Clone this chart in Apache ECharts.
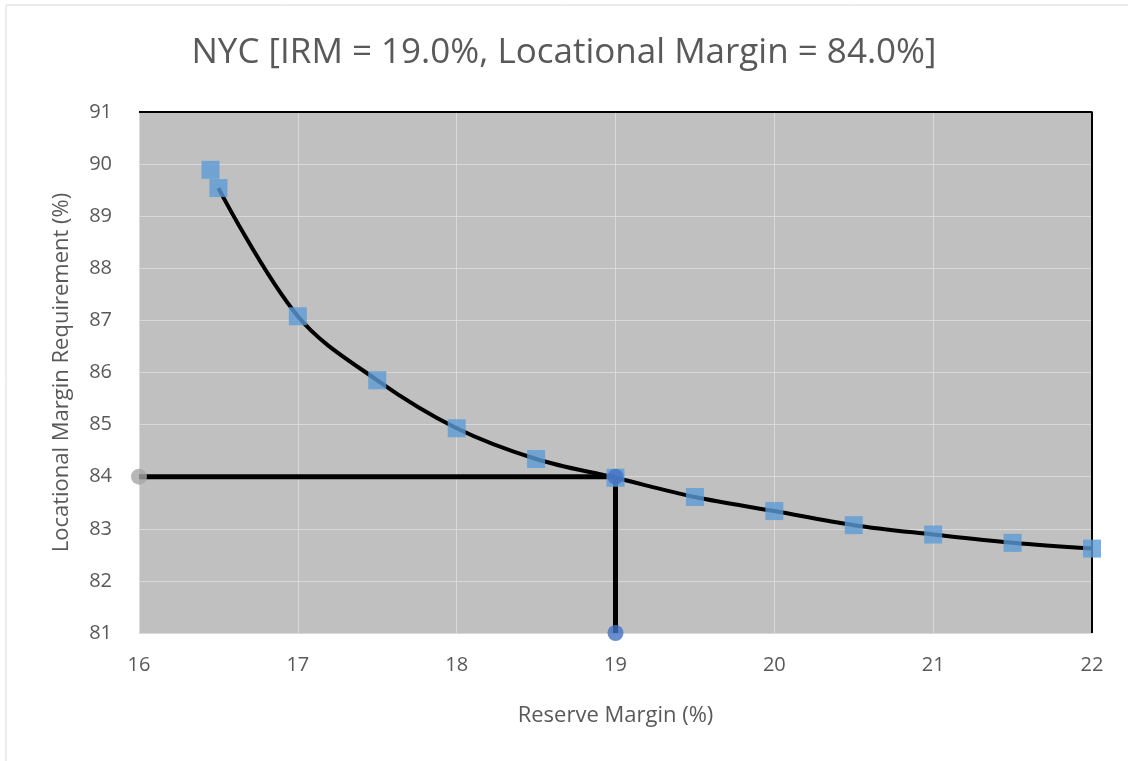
<!DOCTYPE html>
<html>
<head>
<meta charset="utf-8">
<style>
html,body{margin:0;padding:0;background:#fff;}
#main{width:1128px;height:761px;}
</style>
<script src="https://cdn.jsdelivr.net/npm/echarts@6/dist/echarts.min.js"></script>
</head>
<body>
<div id="main"></div>
<script>
// reserve margin (%) vs locational margin requirement (%)
var reserveMargin = [16.45, 16.5, 17, 17.5, 18, 18.5, 19, 19.5, 20, 20.5, 21, 21.5, 22];
var lcrValues = [89.89, 89.54, 87.08, 85.85, 84.93, 84.34, 83.98, 83.61, 83.34, 83.07, 82.89, 82.73, 82.62];
// curve starts at the second point
var curveStart = 1;
var irm = 19.0;
var locMargin = 84.0;
var xMin = 16, xMax = 22;
var yMin = 81, yMax = 91;

var chart = echarts.init(document.getElementById('main'));

var pts = reserveMargin.map(function (x, i) { return [x, lcrValues[i]]; });
var curve = pts.slice(curveStart);

var font = "'Open Sans', sans-serif";

var option = {
    backgroundColor: '#fff',
    animation: false,
    title: {
        text: 'NYC [IRM = 19.0%, Locational Margin = 84.0%]',
        left: 'center',
        top: 31,
        textStyle: { fontFamily: font, fontSize: 35, fontWeight: 'normal', color: '#595959' }
    },
    graphic: [{
        type: 'rect',
        shape: { x: 6, y: 5, width: 1140, height: 770 },
        style: { fill: 'none', stroke: '#d9d9d9', lineWidth: 1 },
        silent: true
    }],
    grid: {
        left: 139, right: 36, top: 112, bottom: 128,
        show: true,
        backgroundColor: '#c0c0c0',
        borderWidth: 0
    },
    xAxis: {
        type: 'value',
        min: xMin, max: xMax, interval: 1,
        name: 'Reserve Margin (%)',
        nameLocation: 'middle',
        nameGap: 72,
        nameTextStyle: { fontFamily: font, fontSize: 22, color: '#595959' },
        axisLine: { show: false },
        axisTick: { show: false },
        axisLabel: { fontFamily: font, fontSize: 20, color: '#595959', margin: 22 },
        splitLine: { show: true, lineStyle: { color: '#d9d9d9', width: 1 } }
    },
    yAxis: {
        type: 'value',
        min: yMin, max: yMax, interval: 1,
        name: 'Locational Margin Requirement (%)',
        nameLocation: 'middle',
        nameGap: 66,
        nameTextStyle: { fontFamily: font, fontSize: 22, color: '#595959' },
        axisLine: { show: false },
        axisTick: { show: false },
        axisLabel: { fontFamily: font, fontSize: 20, color: '#595959', margin: 27 },
        splitLine: { show: true, lineStyle: { color: '#d9d9d9', width: 1 } }
    },
    series: [
        {
            // plot frame top and right edges
            type: 'line',
            data: [[xMin, yMax], [xMax, yMax], [xMax, yMin]],
            symbol: 'none',
            lineStyle: { color: '#000', width: 2 },
            silent: true,
            z: 1
        },
        {
            type: 'line',
            data: curve,
            smooth: 0.35,
            symbol: 'none',
            lineStyle: { color: '#000', width: 4 },
            z: 2
        },
        {
            type: 'line',
            data: [[xMin, locMargin], [irm, locMargin]],
            symbol: 'none',
            lineStyle: { color: '#000', width: 5 },
            z: 2
        },
        {
            type: 'line',
            data: [[irm, locMargin], [irm, yMin]],
            symbol: 'none',
            lineStyle: { color: '#000', width: 5 },
            z: 2
        },
        {
            type: 'scatter',
            data: pts,
            symbol: 'rect',
            symbolSize: 18,
            itemStyle: { color: '#5b9bd5' },
            z: 3
        },
        {
            type: 'scatter',
            data: [[xMin, locMargin]],
            symbol: 'circle',
            symbolSize: 16,
            itemStyle: { color: '#a5a5a5' },
            z: 4
        },
        {
            type: 'scatter',
            data: [[irm, locMargin], [irm, yMin]],
            symbol: 'circle',
            symbolSize: 16,
            itemStyle: { color: '#4472c4' },
            z: 4
        }
    ]
};

chart.setOption(option);
</script>
</body>
</html>
